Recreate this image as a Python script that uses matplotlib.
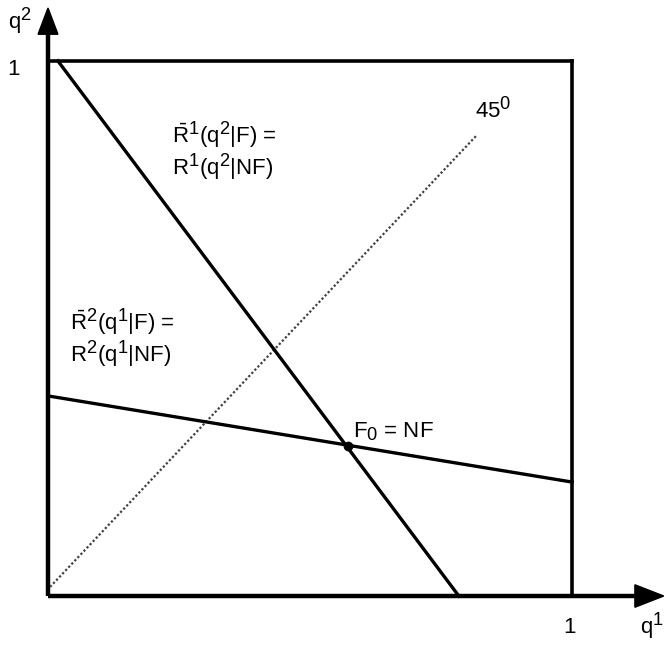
import matplotlib
matplotlib.use('Agg')
import matplotlib.pyplot as plt
import matplotlib._mathtext as mathtext_internals
from matplotlib.patches import Polygon

# superscripts in the original are almost full size
mathtext_internals.SHRINK_FACTOR = 0.82

plt.rcParams['font.family'] = ['Liberation Sans', 'DejaVu Sans']
plt.rcParams['mathtext.fontset'] = 'custom'
plt.rcParams['mathtext.rm'] = 'Liberation Sans'
plt.rcParams['mathtext.it'] = 'Liberation Sans'
plt.rcParams['mathtext.default'] = 'regular'

# reaction functions (q1, q2 in units of the box)
r1_q1 = [0.019, 0.784]
r1_q2 = [1.0, 0.0]
r2_q1 = [0.0, 1.0]
r2_q2 = [0.374, 0.213]
# 45 degree reference line
diag_q1 = [0.004, 0.819]
diag_q2 = [0.017, 0.862]
# equilibrium point
eq_q1 = [0.573]
eq_q2 = [0.280]

fig = plt.figure(figsize=(6.70, 6.47), dpi=100)
ax = fig.add_axes([0, 0, 1, 1])
ax.set_xlim(-0.0916, 1.187)
ax.set_ylim(-0.0953, 1.114)
ax.axis('off')

# axes with arrows
ax.plot([0, 1.12], [0, 0], color='black', lw=3.2, solid_capstyle='butt')
ax.plot([0, 0], [0, 1.05], color='black', lw=3.2, solid_capstyle='butt')
ax.add_patch(Polygon([[1.12, -0.021], [1.12, 0.021], [1.175, 0]], closed=True, color='black'))
ax.add_patch(Polygon([[-0.019, 1.05], [0.019, 1.05], [0, 1.099]], closed=True, color='black'))

# the unit box
ax.plot([0, 1], [1, 1], color='black', lw=2.6)
ax.plot([1, 1], [0, 1], color='black', lw=2.6)

# lines
ax.plot(diag_q1, diag_q2, color='0.25', lw=1.6, linestyle=(0, (1, 1)))
ax.plot(r1_q1, r1_q2, color='black', lw=2.4)
ax.plot(r2_q1, r2_q2, color='black', lw=2.4)
ax.plot(eq_q1, eq_q2, 'o', color='black', ms=6)

fs = 16
ax.text(0.237, 0.847, r'$\bar{R}^1(q^2|F)$ =', fontsize=fs, va='baseline')
ax.text(0.237, 0.787, r'$R^1(q^2|NF)$', fontsize=fs, va='baseline')
ax.text(0.042, 0.497, r'$\bar{R}^2(q^1|F)$ =', fontsize=fs, va='baseline')
ax.text(0.042, 0.437, r'$R^2(q^1|NF)$', fontsize=fs, va='baseline')
ax.text(0.582, 0.297, r'$F_0$ = NF', fontsize=fs, va='baseline')
ax.text(0.815, 0.893, r'$45^0$', fontsize=fs, va='baseline')

ax.text(-0.076, 1.06, r'$q^2$', fontsize=fs, va='baseline')
ax.text(-0.066, 0.985, '1', fontsize=fs, ha='center', va='center')
ax.text(0.996, -0.058, '1', fontsize=fs, ha='center', va='center')
ax.text(1.13, -0.071, r'$q^1$', fontsize=fs, va='baseline')

fig.savefig('out.png', dpi=100)
